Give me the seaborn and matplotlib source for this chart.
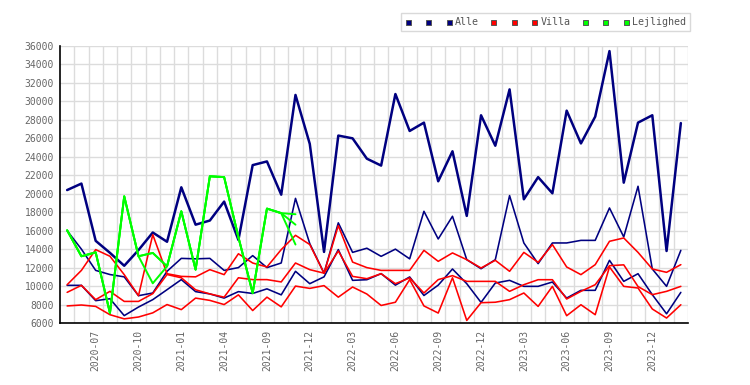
import matplotlib
matplotlib.use('Agg')
import matplotlib.pyplot as plt
from matplotlib.lines import Line2D
import seaborn as sns
import numpy as np
import pandas as pd

# --- data ---
months = ['2020-05', '2020-06', '2020-07', '2020-08', '2020-09', '2020-10', '2020-11', '2020-12',
          '2021-01', '2021-02', '2021-03', '2021-04', '2021-05', '2021-06', '2021-09', '2021-10',
          '2021-11', '2021-12', '2022-01', '2022-02', '2022-03', '2022-04', '2022-05', '2022-06',
          '2022-07', '2022-08', '2022-09', '2022-10', '2022-11', '2022-12', '2023-01', '2023-02',
          '2023-03', '2023-04', '2023-05', '2023-06', '2023-07', '2023-08', '2023-09', '2023-10',
          '2023-11', '2023-12', '2024-01', '2024-02']

alle_1 = [20400, 21100, 14900, 13600, 12200, 13900, 15800, 14800, 20700, 16650, 17100, 19150,
          15000, 23100, 23500, 19900, 30700, 25400, 13700, 26300, 26000, 23800, 23050, 30800,
          26800, 27700, 21350, 24600, 17600, 28500, 25200, 31300, 19400, 21800, 20050, 29000,
          25450, 28350, 35450, 21200, 27700, 28500, 13800, 27650]
alle_2 = [16000, 14000, 11700, 11250, 11000, 8960, 9250, 11600, 13000, 12950, 13000, 11700,
          12000, 13300, 12000, 12500, 19500, 14600, 11400, 16850, 13650, 14100, 13220, 14000,
          12950, 18100, 15100, 17560, 12860, 11880, 12860, 19800, 14670, 12430, 14670, 14670,
          14950, 14950, 18460, 15320, 20810, 11850, 9970, 13870]
alle_3 = [10080, 10080, 8420, 8630, 6800, 7730, 8530, 9610, 10700, 9400, 9150, 8700,
          9400, 9200, 9700, 9050, 11600, 10260, 11000, 13950, 10620, 10690, 11350, 10100,
          10990, 8980, 10100, 11850, 10260, 8230, 10330, 10620, 9970, 9970, 10440, 8700,
          9540, 9540, 12790, 10510, 11340, 9070, 7000, 9320]

villa_1 = [10150, 11700, 13950, 13230, 11240, 8960, 15570, 11340, 11050, 11000, 11780, 11240,
           13500, 12500, 12070, 13950, 15500, 14500, 11400, 16550, 12600, 12000, 11700, 11700,
           11700, 13870, 12680, 13590, 12860, 11960, 12790, 11600, 13650, 12570, 14490, 12070,
           11240, 12320, 14850, 15210, 13650, 11850, 11490, 12320]
villa_2 = [9320, 10080, 8530, 9430, 8340, 8340, 9180, 11250, 10900, 9600, 9150, 8800,
           10900, 10700, 10700, 10450, 12500, 11780, 11400, 13800, 11050, 10800, 11340, 10260,
           10880, 9250, 10700, 11130, 10510, 10510, 10510, 9430, 10150, 10690, 10690, 8600,
           9430, 10150, 12210, 12300, 9950, 9070, 9430, 9970]
villa_3 = [7850, 7950, 7800, 6900, 6450, 6650, 7100, 8000, 7450, 8700, 8450, 8000,
           9050, 7350, 8800, 7750, 10000, 9750, 10050, 8800, 9900, 9140, 7900, 8250,
           10700, 7850, 7080, 10900, 6280, 8200, 8250, 8530, 9250, 7800, 9970, 6790,
           7980, 6900, 12070, 9970, 9790, 7520, 6540, 7980]

nan = np.nan
lejl_1 = [16040, 13230, 13650, 7080, 19720, 13230, 13590, 12140, 18100, 11780, 21890, 21800,
          15300, 9250, 18390, 17900, 17780] + [nan] * 27
lejl_2 = [16040, 13230, 13650, 7080, 19720, 13230, 10300, 12140, 18100, 11780, 21890, 21800,
          15300, 9250, 18390, 17900, 16650] + [nan] * 27
lejl_3 = [16040, 13230, 13650, 7080, 19720, 13230, 13590, 12140, 18100, 11780, 21890, 21800,
          15300, 9250, 18390, 17900, 14500] + [nan] * 27

NAVY, RED, GREEN = '#000080', '#ff0000', '#00ff00'
series = [
    (alle_1, NAVY, 1.8), (alle_2, NAVY, 1.15), (alle_3, NAVY, 1.15),
    (villa_1, RED, 1.15), (villa_2, RED, 1.15), (villa_3, RED, 1.15),
    (lejl_1, GREEN, 1.4), (lejl_2, GREEN, 1.4), (lejl_3, GREEN, 1.4),
]

sns.set_theme(style='white')
plt.rcParams['font.family'] = ['DejaVu Sans Mono', 'DejaVu Sans']

fig = plt.figure(figsize=(7.5, 3.85), dpi=100)
ax = fig.add_axes([0.08, 0.161, 0.8373, 0.7195])

pos = np.arange(len(months))
for vals, color, lw in series:
    df = pd.DataFrame({'pos': pos, 'value': vals}).dropna()
    sns.lineplot(data=df, x='pos', y='value', color=color, linewidth=lw,
                 errorbar=None, sort=False, ax=ax)

# axes / grid
ax.set_xlim(-0.5, len(months) - 0.5)
ax.set_ylim(6000, 36000)
yticks = list(range(6000, 36001, 2000))
ax.set_yticks(yticks)
ax.set_yticklabels([str(v) for v in yticks])
lab_idx = list(range(2, len(months), 3))
ax.set_xticks(lab_idx)
ax.set_xticklabels([months[i] for i in lab_idx], rotation=90)
ax.set_xticks(np.arange(0.5, len(months), 1), minor=True)
ax.grid(axis='y', which='major', color='#dcdcdc', linewidth=1.0)
ax.grid(axis='x', which='minor', color='#dcdcdc', linewidth=1.0)
ax.set_axisbelow(True)
ax.set_xlabel('')
ax.set_ylabel('')
ax.tick_params(which='both', length=0, labelsize=7, colors='#666666')
ax.tick_params(axis='y', pad=4.3)
ax.tick_params(axis='x', pad=5)
for s in ['top', 'right']:
    ax.spines[s].set_visible(False)
for s in ['left', 'bottom']:
    ax.spines[s].set_color('black')
    ax.spines[s].set_linewidth(1.2)

# legend: a square per series, group name after the last square
handles = [Line2D([], [], marker='s', linestyle='none', markersize=3.6,
                  markerfacecolor=c, markeredgecolor='#555555', markeredgewidth=0.7)
           for _, c, _ in series]
labels = ['', '', 'Alle', '', '', 'Villa', '', '', 'Lejlighed']
leg = fig.legend(handles, labels, ncol=9, loc='upper right', bbox_to_anchor=(0.92, 0.966),
                 frameon=True, fancybox=False, edgecolor='#d0d0d0', fontsize=7.2,
                 handlelength=0.6, handletextpad=0.35, columnspacing=1.1,
                 borderpad=0.4, borderaxespad=0, labelcolor='#555555')
leg.get_frame().set_linewidth(1.0)

fig.savefig('out.png', dpi=100)
